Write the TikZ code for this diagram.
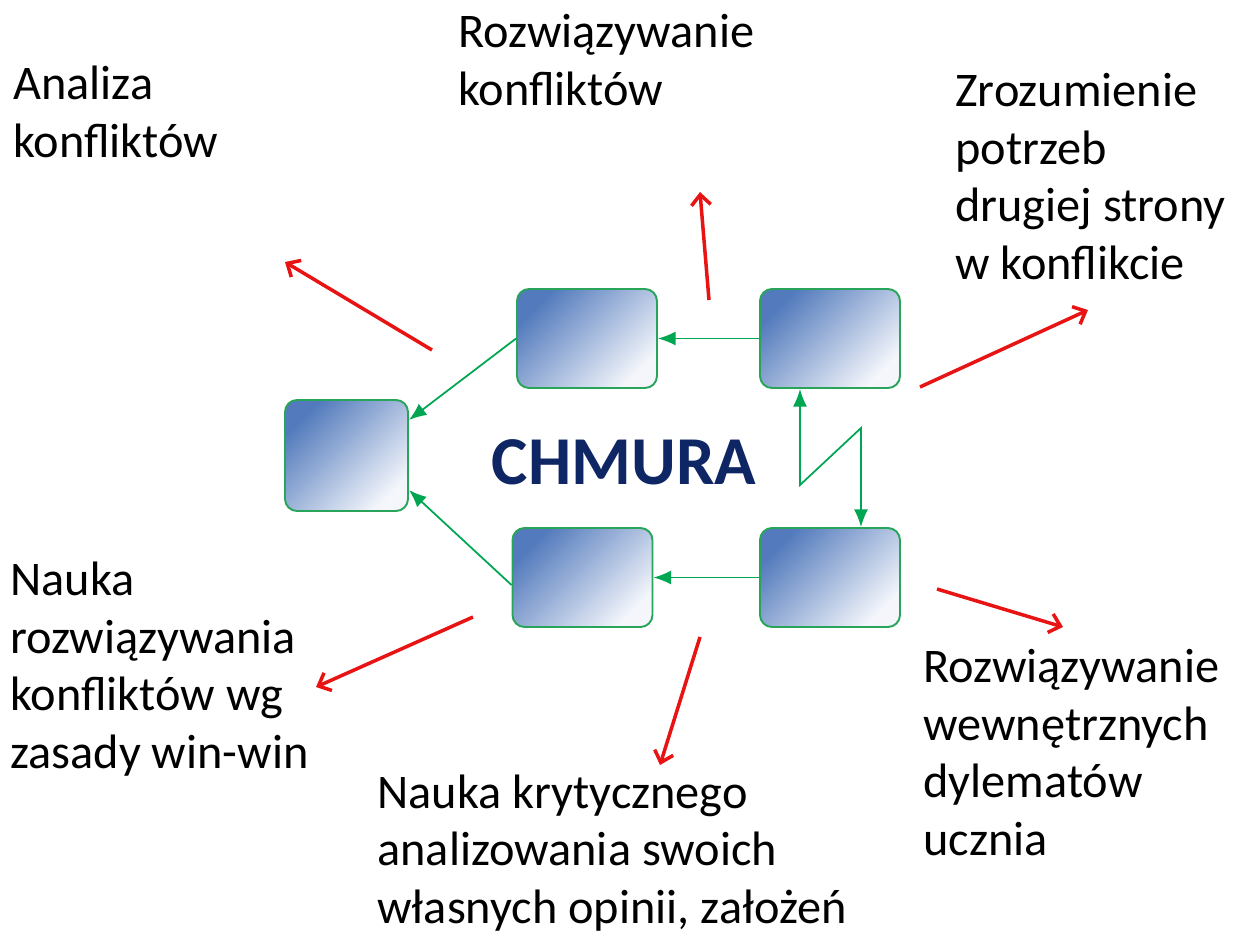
\documentclass[tikz,border=0pt]{standalone}
\usepackage{fontspec}
\setmainfont{Carlito}
\usetikzlibrary{arrows.meta}

\definecolor{ramka}{RGB}{40,165,90}
\definecolor{zielony}{RGB}{0,166,81}
\definecolor{czerwony}{RGB}{232,20,20}
\definecolor{ciemnyniebieski}{RGB}{82,122,188}
\definecolor{jasny}{RGB}{244,246,251}
\definecolor{granat}{RGB}{14,38,100}

\begin{document}
\begin{tikzpicture}[x=0.02cm,y=-0.02cm,
    pole/.style={draw=ramka, line width=1.1pt, rounded corners=0.24cm,
      top color=ciemnyniebieski, bottom color=jasny, shading angle=45,
      minimum width=2.8cm, minimum height=1.98cm},
    strzalka/.style={draw=zielony, line width=1pt, -{Latex[length=10pt,width=8pt]}},
    wyjscie/.style={draw=czerwony, line width=2pt, -{Straight Barb[length=6pt,width=11pt]}},
    opis/.style={anchor=base west, inner sep=0pt, align=left,
      font=\fontsize{27.5}{32.7}\selectfont}]
		\useasboundingbox (0,0) rectangle (1235,938);

		% Pola
		\node[pole, minimum width=2.46cm, minimum height=2.22cm] (lewe) at (346.5,455.5) {};
		\node[pole] (gora) at (587,338.5) {};
		\node[pole] (dol) at (582.5,577.5) {};
		\node[pole] (prawegora) at (830,338.5) {};
		\node[pole] (prawedol) at (830,577.5) {};

		% Napis
		\node[text=granat, font=\fontsize{39}{46}\selectfont\bfseries] (chmura) at (624,462) {CHMURA};

		% Zielone strzalki
		\draw[strzalka] (prawegora.west) -- (gora.east);
		\draw[strzalka] (prawedol.west) -- (dol.east);
		\draw[strzalka] (gora.west) -- ([yshift=0.71cm]lewe.east);
		\draw[strzalka] ([yshift=-0.15cm]dol.west) -- ([yshift=-0.69cm]lewe.east);
		\coordinate (zygA) at (800,485);
		\coordinate (zygB) at (861,428);
		\draw[strzalka, {Latex[length=10pt,width=8pt]}-{Latex[length=10pt,width=8pt]}]
			(zygA |- prawegora.south) -- (zygA) -- (zygB) -- (zygB |- prawedol.north);

		% Czerwone strzalki
		\coordinate (a1) at (432,350); \coordinate (b1) at (285,262);
		\coordinate (a2) at (709,300); \coordinate (b2) at (700,192);
		\coordinate (a3) at (920,387); \coordinate (b3) at (1088,310);
		\coordinate (a4) at (937,589); \coordinate (b4) at (1063,627);
		\coordinate (a5) at (700,637); \coordinate (b5) at (660,765);
		\coordinate (a6) at (473,617); \coordinate (b6) at (316,687);
		\foreach \i in {1,...,6}
			\draw[wyjscie] (a\i) -- (b\i);

		% Opisy (punkt odniesienia: linia bazowa ostatniego wiersza)
		\node[opis] (analiza) at (13,157) {Analiza\\konfliktów};
		\node[opis] (rozwiazywanie) at (458,105) {Rozwiązywanie\\konfliktów};
		\node[opis] (zrozumienie) at (955,279) {Zrozumienie\\potrzeb\\drugiej strony\\w konflikcie};
		\node[opis] (winwin) at (10,768) {Nauka\\rozwiązywania\\konfliktów wg\\zasady win-win};
		\node[opis] (dylematy) at (923,855) {Rozwiązywanie\\wewnętrznych\\dylematów\\ucznia};
		\node[opis] (krytyczne) at (377,923) {Nauka krytycznego\\analizowania swoich\\własnych opinii, założeń};
	\end{tikzpicture}
\end{document}
